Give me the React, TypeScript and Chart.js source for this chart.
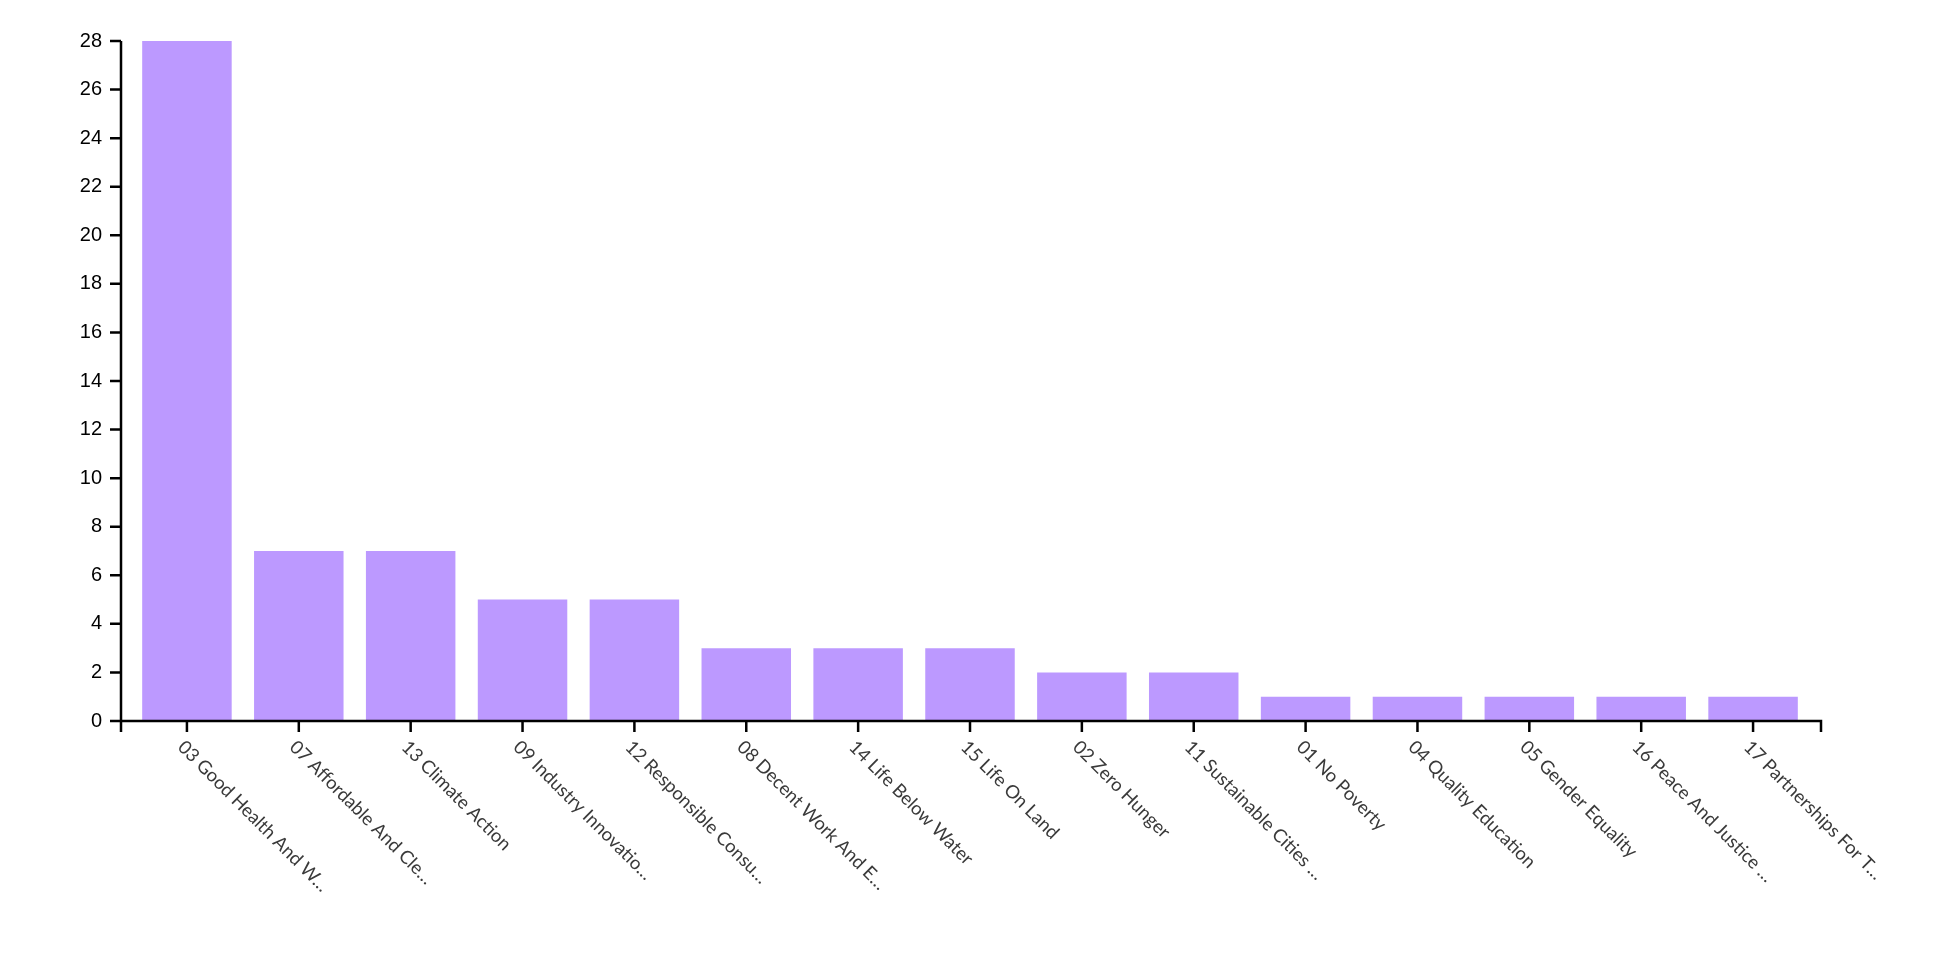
import React, { useEffect, useRef } from 'react';
import Chart from 'chart.js/auto';

// SDG goals, sorted by count (labels are truncated as in the source chart)
const goals = [
    '03 Good Health And W…',
    '07 Affordable And Cle…',
    '13 Climate Action',
    '09 Industry Innovatio…',
    '12 Responsible Consu…',
    '08 Decent Work And E…',
    '14 Life Below Water',
    '15 Life On Land',
    '02 Zero Hunger',
    '11 Sustainable Cities …',
    '01 No Poverty',
    '04 Quality Education',
    '05 Gender Equality',
    '16 Peace And Justice …',
    '17 Partnerships For T…',
];
const counts = [28, 7, 7, 5, 5, 3, 3, 3, 2, 2, 1, 1, 1, 1, 1];

const yMax = 28;
const yStep = 2;

const BAR_COLOR = '#bc99ff';

// d3-style axes: axis lines with outer ticks, labels rotated down-right
const d3AxesPlugin = {
    id: 'd3Axes',
    afterDraw(chart: any) {
        const { ctx } = chart;
        const x = chart.scales.x;
        const y = chart.scales.y;
        const axisX = x.left - 10;
        const axisRight = x.right + 12;
        const base = y.bottom;
        const tick = 11;

        ctx.save();
        ctx.strokeStyle = '#000';
        ctx.lineWidth = 2.5;
        ctx.lineCap = 'butt';
        ctx.beginPath();
        // y axis
        ctx.moveTo(axisX, y.top);
        ctx.lineTo(axisX, base);
        y.ticks.forEach((_t: any, i: number) => {
            const py = y.getPixelForTick(i);
            ctx.moveTo(axisX - tick, py);
            ctx.lineTo(axisX, py);
        });
        // x axis
        ctx.moveTo(axisX - 1.25, base);
        ctx.lineTo(axisRight + 1.25, base);
        ctx.moveTo(axisX, base);
        ctx.lineTo(axisX, base + tick);
        ctx.moveTo(axisRight, base);
        ctx.lineTo(axisRight, base + tick);
        goals.forEach((_g, i) => {
            const px = x.getPixelForValue(i);
            ctx.moveTo(px, base);
            ctx.lineTo(px, base + tick);
        });
        ctx.stroke();

        // x labels
        ctx.fillStyle = '#3a3a3a';
        ctx.font = '18.5px Lato, "Noto Sans", sans-serif';
        ctx.textAlign = 'left';
        ctx.textBaseline = 'middle';
        goals.forEach((g, i) => {
            const px = x.getPixelForValue(i);
            ctx.save();
            ctx.translate(px - 6, base + 23);
            ctx.rotate(Math.PI / 4);
            ctx.fillText(g, 0, 0);
            ctx.restore();
        });
        ctx.restore();
    },
};

const SdgBarChart = () => {
    const canvasRef = useRef<HTMLCanvasElement>(null);
    const chartRef = useRef<Chart | null>(null);

    useEffect(() => {
        if (!canvasRef.current) return;
        if (chartRef.current) chartRef.current.destroy();

        chartRef.current = new Chart(canvasRef.current, {
            type: 'bar',
            data: {
                labels: goals,
                datasets: [{
                    data: counts,
                    backgroundColor: BAR_COLOR,
                    borderWidth: 0,
                    categoryPercentage: 1,
                    barPercentage: 0.8,
                }],
            },
            options: {
                animation: false,
                responsive: true,
                maintainAspectRatio: false,
                layout: { padding: { top: 40, right: 151, left: 0, bottom: 0 } },
                plugins: {
                    legend: { display: false },
                    tooltip: { enabled: false },
                },
                scales: {
                    x: {
                        offset: true,
                        grid: { display: false, drawTicks: false },
                        border: { display: false },
                        ticks: { display: false },
                        afterFit: (scale: any) => { scale.height = 239; },
                    },
                    y: {
                        min: 0,
                        max: yMax,
                        grid: { display: false, drawTicks: false },
                        border: { display: false },
                        ticks: {
                            stepSize: yStep,
                            padding: 29,
                            color: '#000',
                            font: { family: '"Liberation Sans", Arial, sans-serif', size: 20 },
                        },
                        afterFit: (scale: any) => { scale.width = 131; },
                    },
                },
            },
            plugins: [d3AxesPlugin],
        });

        return () => {
            if (chartRef.current) chartRef.current.destroy();
            chartRef.current = null;
        };
    }, []);

    return (
        <div style={{ position: 'fixed', left: 0, top: 0, width: 1960, height: 960, background: '#fff' }}>
            <canvas ref={canvasRef}></canvas>
        </div>
    );
};

export default function App() {
    return <SdgBarChart />;
}
